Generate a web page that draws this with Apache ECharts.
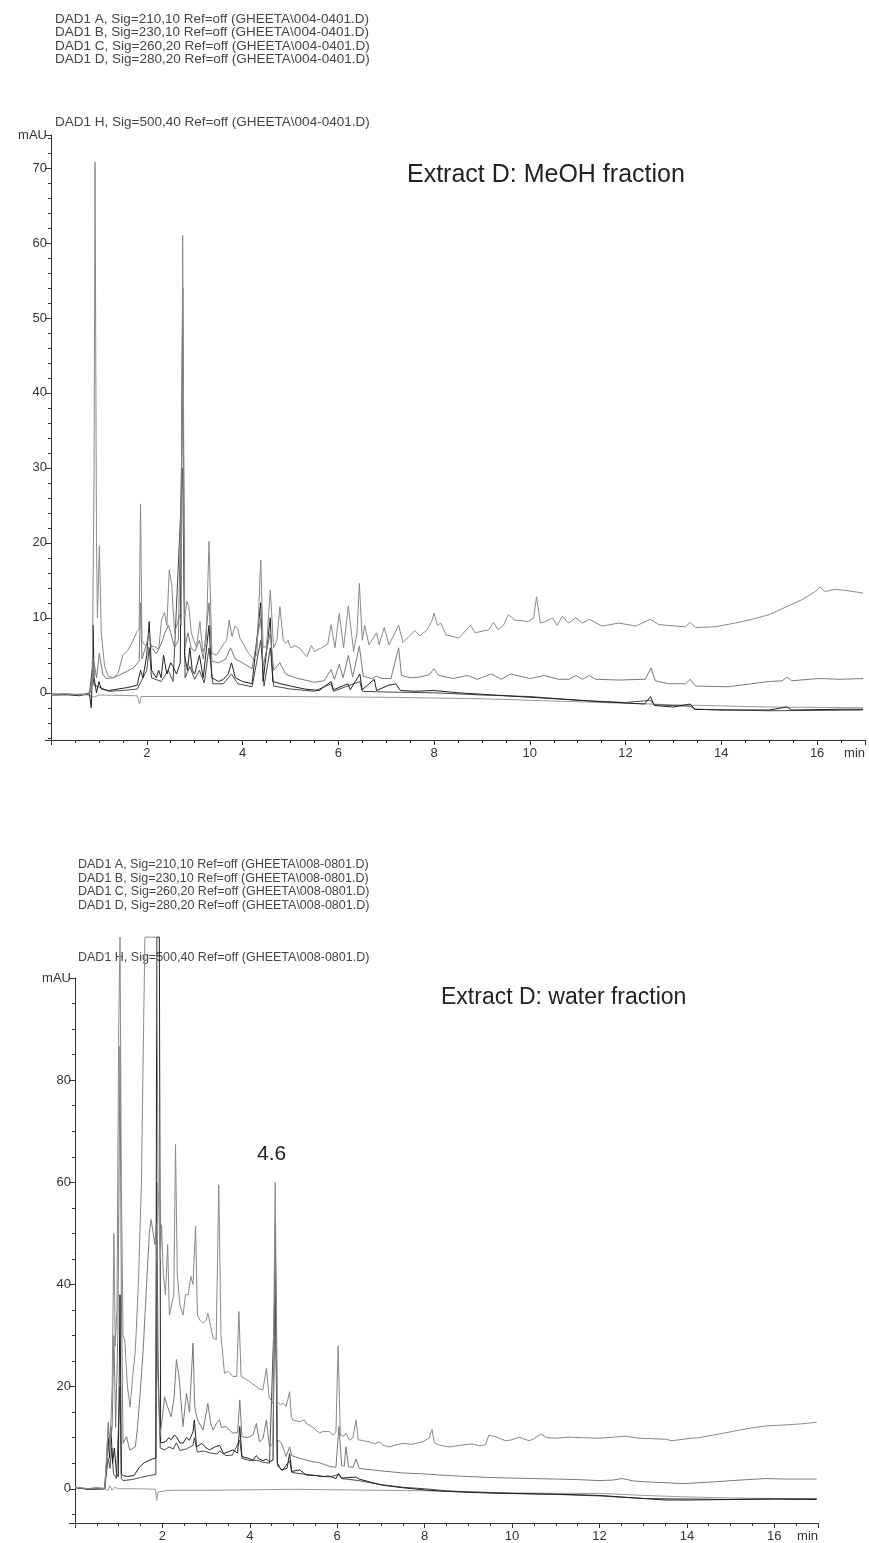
<!DOCTYPE html>
<html>
<head>
<meta charset="utf-8">
<title>Extract D chromatograms</title>
<script src="https://cdn.jsdelivr.net/npm/echarts@6/dist/echarts.min.js"></script>
<style>
  html, body { margin: 0; padding: 0; background: #fff; }
  #chart { width: 869px; height: 1543px; }
</style>
</head>
<body>
<div id="chart"></div>
<script>
// header lines (signal descriptions)
var topHeader = [
  'DAD1 A, Sig=210,10 Ref=off (GHEETA\\004-0401.D)',
  'DAD1 B, Sig=230,10 Ref=off (GHEETA\\004-0401.D)',
  'DAD1 C, Sig=260,20 Ref=off (GHEETA\\004-0401.D)',
  'DAD1 D, Sig=280,20 Ref=off (GHEETA\\004-0401.D)'
];
var topHeaderH = 'DAD1 H, Sig=500,40 Ref=off (GHEETA\\004-0401.D)';
var botHeader = [
  'DAD1 A, Sig=210,10 Ref=off (GHEETA\\008-0801.D)',
  'DAD1 B, Sig=230,10 Ref=off (GHEETA\\008-0801.D)',
  'DAD1 C, Sig=260,20 Ref=off (GHEETA\\008-0801.D)',
  'DAD1 D, Sig=280,20 Ref=off (GHEETA\\008-0801.D)'
];
var botHeaderH = 'DAD1 H, Sig=500,40 Ref=off (GHEETA\\008-0801.D)';

// axis ranges
var xMax = 17;
var topYMin = -6.3, topYMax = 74.4;
var botYMin = -6.7, botYMax = 100;

// ---- MeOH fraction traces [min, mAU] ----
var topA = [[0,-0.2],[0.3,-0.1],[0.6,-0.3],[0.8,-0.1],[0.86,0.5],[0.9,30],[0.92,70.8],[0.95,20],[0.97,10],[1.01,19.6],[1.05,8],[1.12,3.5],[1.2,2.2],[1.3,2.0],[1.4,2.6],[1.5,5],[1.6,5.6],[1.7,6.8],[1.8,8.2],[1.84,8.5],[1.87,25.2],[1.9,7],[1.95,6.4],[2.05,6],[2.15,6.2],[2.25,5.8],[2.31,9.8],[2.37,10.7],[2.42,9],[2.47,16.4],[2.52,14.5],[2.58,8],[2.63,9],[2.68,10.4],[2.72,9],[2.75,61],[2.79,10],[2.84,12.2],[2.88,11.5],[2.93,8],[2.98,7],[3.04,6.1],[3.11,9.5],[3.17,5.5],[3.24,6.5],[3.3,20.2],[3.36,5.3],[3.45,5],[3.53,5.7],[3.6,6.5],[3.67,7],[3.72,9.7],[3.78,7.5],[3.84,8.9],[3.9,8.5],[3.95,7.2],[4.02,6.5],[4.1,5.5],[4.22,4.5],[4.3,5],[4.38,17.7],[4.43,6],[4.5,6.2],[4.58,13.7],[4.65,6],[4.72,7],[4.78,11.5],[4.85,7],[4.9,6.6],[4.95,7],[5.0,6],[5.1,6.3],[5.2,5.9],[5.34,4.8],[5.44,6.3],[5.5,5.5],[5.65,6],[5.78,6.5],[5.85,9.1],[5.93,6],[6.02,10.6],[6.11,6],[6.21,11.6],[6.32,5.5],[6.39,8],[6.44,14.6],[6.5,7],[6.55,9],[6.64,6.4],[6.8,8],[6.85,6.4],[6.96,8.7],[7.06,6.4],[7.26,9],[7.35,6.7],[7.6,8.3],[7.7,7.6],[7.84,8.3],[7.95,9.5],[8.0,10.6],[8.07,9],[8.14,9.3],[8.25,7.7],[8.4,7.5],[8.52,7.3],[8.66,8.3],[8.76,9],[8.86,8],[9.0,8.2],[9.14,8.4],[9.24,9.4],[9.34,8.4],[9.45,9],[9.55,10.4],[9.69,9.7],[9.85,9.6],[9.97,9.5],[10.08,10],[10.14,12.8],[10.22,9.3],[10.33,9.5],[10.47,10],[10.57,9],[10.68,10.2],[10.81,9.3],[10.96,10],[11.1,9.3],[11.24,9.8],[11.51,8.9],[11.86,9.3],[12.21,8.9],[12.52,9.8],[12.69,9.1],[13.04,8.9],[13.25,8.8],[13.35,9.4],[13.46,8.7],[13.87,8.8],[14.29,9.3],[14.64,9.8],[14.99,10.4],[15.37,11.5],[15.68,12.4],[15.96,13.5],[16.06,14.1],[16.17,13.5],[16.38,13.8],[16.65,13.6],[16.96,13.3]];
var topB = [[0,-0.2],[0.8,-0.2],[0.86,1],[0.9,4],[0.95,2],[1.01,5.3],[1.08,2.5],[1.15,1.9],[1.3,2.0],[1.44,2.4],[1.6,2.9],[1.72,3.3],[1.84,4.2],[1.87,12],[1.9,4.5],[2.0,6.6],[2.05,8],[2.1,6],[2.2,5.2],[2.3,6.5],[2.38,8],[2.45,9],[2.5,8],[2.58,6],[2.66,7],[2.75,40],[2.8,6],[2.86,8],[2.93,6],[3.0,5.5],[3.1,7],[3.18,4.5],[3.3,12],[3.36,4.2],[3.5,4],[3.65,4.5],[3.75,6],[3.85,4.5],[4.0,4],[4.2,3.2],[4.38,10],[4.43,3.5],[4.58,8],[4.65,3],[4.78,4],[4.9,2.5],[5.1,2],[5.3,1.7],[5.5,1.4],[5.7,1.6],[5.85,3.1],[5.92,1.8],[6.02,3.8],[6.1,2],[6.21,5],[6.3,2.1],[6.44,6.2],[6.52,2.2],[6.7,1.9],[6.8,2.2],[6.9,1.9],[7.1,1.9],[7.26,6],[7.32,2.3],[7.5,2],[7.7,2.1],[7.9,2.4],[8.0,3.2],[8.1,2.3],[8.4,1.9],[8.7,2.3],[8.9,1.8],[9.2,2.5],[9.4,1.8],[9.6,2.5],[9.8,2.2],[10.0,1.9],[10.3,2.3],[10.6,1.8],[10.82,1.8],[10.96,2.3],[11.1,1.8],[11.24,2.3],[11.38,1.8],[11.86,1.7],[12.41,1.8],[12.53,3.3],[12.62,1.6],[12.9,1.2],[13.25,1.2],[13.35,1.8],[13.46,0.9],[14.15,0.8],[14.99,1.5],[15.27,1.6],[15.37,2.1],[15.47,1.6],[16.03,1.9],[16.5,1.8],[16.96,1.9]];
var topC = [[0,-0.2],[0.3,-0.2],[0.6,-0.4],[0.8,0],[0.84,-2],[0.86,2],[0.88,9],[0.9,2],[0.95,0],[1.0,1.5],[1.05,0.5],[1.2,0.3],[1.4,0.5],[1.6,0.7],[1.8,1.0],[1.87,3],[1.92,2],[2.0,5],[2.05,9.5],[2.1,3],[2.2,2],[2.25,3],[2.3,2],[2.35,5],[2.42,2.5],[2.5,4],[2.55,3.5],[2.62,2.5],[2.7,4],[2.75,54],[2.79,5],[2.85,3],[2.9,6],[2.95,3],[3.0,2.5],[3.1,5],[3.18,2],[3.3,9],[3.36,2],[3.5,1.5],[3.6,1.8],[3.7,2.5],[3.77,4],[3.85,2],[4.0,1.5],[4.2,1.2],[4.38,12],[4.43,1.5],[4.58,10],[4.63,1.5],[4.8,1.2],[5.0,0.9],[5.3,0.5],[5.6,0.3],[5.85,1.5],[5.9,0.4],[6.2,1.2],[6.25,0.4],[6.45,2.5],[6.5,0.4],[6.75,1.8],[6.8,0.3],[7.05,1],[7.2,1.2],[7.3,0.3],[7.6,0.2],[8.0,0.3],[8.5,0],[9,-0.2],[9.5,-0.4],[10,-0.6],[10.8,-0.9],[11.5,-1.2],[12.4,-1.5],[12.52,-0.5],[12.6,-1.7],[13.0,-1.9],[13.35,-1.5],[13.45,-2.2],[14,-2.3],[15,-2.3],[15.37,-1.9],[15.47,-2.3],[16.5,-2.2],[16.96,-2.2]];
var topD = [[0,-0.3],[0.8,-0.2],[0.86,3],[0.9,1],[1.0,0.8],[1.2,0.2],[1.5,0.3],[1.8,0.5],[2.0,3],[2.05,6],[2.1,2],[2.3,1.5],[2.45,3],[2.55,1.5],[2.75,30],[2.8,2],[2.9,3.5],[3.0,1.8],[3.1,3],[3.2,1.3],[3.3,6],[3.38,1.2],[3.6,1.2],[3.77,2.5],[3.9,1.2],[4.2,0.8],[4.38,7],[4.45,0.9],[4.58,6],[4.65,0.9],[5.0,0.5],[5.5,0.2],[5.85,1.2],[5.9,0.2],[6.45,1.5],[6.5,0.2],[7,0.1],[8,0],[9,-0.3],[10,-0.5],[11,-1.0],[12,-1.3],[12.52,-1.0],[12.6,-1.6],[13.35,-1.8],[13.45,-2.2],[15,-2.4],[16.96,-2.3]];
var topH = [[0,-0.3],[0.8,-0.3],[0.9,-0.6],[1.0,-0.3],[1.8,-0.4],[1.85,-1.5],[1.88,-0.5],[3,-0.5],[5,-0.5],[7,-0.6],[9,-0.8],[11,-1.2],[13,-1.6],[15,-1.9],[16.96,-2.0]];

// ---- water fraction traces [min, mAU] (108 = clipped at top of plot) ----
var botA = [[0,0.3],[0.3,0],[0.5,0.3],[0.68,0],[0.72,6],[0.76,12],[0.8,8],[0.85,20],[0.89,50],[0.92,28],[0.96,35],[1.0,90],[1.03,108],[1.06,60],[1.1,30],[1.14,29],[1.2,20],[1.26,16],[1.32,22],[1.38,27],[1.45,40],[1.52,60],[1.56,85],[1.6,108],[1.87,108],[1.9,60],[1.95,45],[1.98,51.7],[2.02,42],[2.07,38],[2.12,47.8],[2.16,34],[2.2,33.7],[2.26,38],[2.3,67.4],[2.34,42],[2.4,36],[2.47,34],[2.53,38],[2.59,38],[2.65,41.6],[2.7,40],[2.76,51.4],[2.8,34],[2.86,33],[2.93,32.4],[3.0,33],[3.04,34.4],[3.1,32],[3.16,29.5],[3.23,29.2],[3.29,59.5],[3.34,30],[3.42,22.6],[3.5,23],[3.61,22],[3.7,22],[3.75,34.7],[3.8,22],[3.9,21.5],[4.0,21],[4.07,20.5],[4.15,20],[4.22,19.5],[4.3,19.4],[4.38,23.6],[4.44,18],[4.53,16.7],[4.58,60],[4.63,17],[4.7,16.5],[4.77,16.7],[4.83,16.1],[4.91,19],[4.95,14],[4.98,13.5],[5.14,13.1],[5.25,13.5],[5.29,12.8],[5.45,12],[5.59,10.9],[5.67,11.2],[5.82,11.2],[5.9,10.5],[5.97,11],[6.02,28],[6.07,10.5],[6.15,10.3],[6.2,10.9],[6.28,9.5],[6.36,10],[6.43,13.5],[6.48,9.6],[6.6,9.4],[6.73,9.2],[6.85,8.8],[6.96,9.2],[7.05,8.5],[7.19,8.2],[7.35,8.6],[7.5,8.9],[7.7,8.7],[7.95,9.2],[8.1,9.9],[8.17,11.6],[8.22,9.0],[8.35,8.5],[8.56,8.2],[8.8,8.5],[9.09,8.8],[9.25,8.4],[9.39,8.6],[9.47,10.5],[9.58,10.3],[9.7,9.9],[9.85,9.4],[10.0,9.6],[10.16,10.1],[10.39,9.4],[10.5,9.8],[10.65,10.7],[10.8,10],[11.0,9.9],[11.3,10.1],[11.6,10],[11.99,9.9],[12.3,10.1],[12.6,10.3],[12.9,9.9],[13.2,9.8],[13.51,9.7],[13.66,9.4],[14.0,9.8],[14.27,10],[14.6,10.5],[15.03,11.2],[15.4,11.8],[15.79,12.3],[16.25,12.5],[16.6,12.7],[16.97,13.0]];
var botB = [[0,0.3],[0.3,0],[0.68,0.1],[0.72,5],[0.76,13],[0.8,9],[0.85,12],[0.89,30],[0.93,12],[0.98,30],[1.03,86.7],[1.06,38],[1.1,8.9],[1.18,10.2],[1.25,7.6],[1.38,8.2],[1.43,12],[1.48,17.4],[1.56,27.2],[1.64,40.3],[1.7,50],[1.74,52.7],[1.79,50],[1.83,47.8],[1.86,52],[1.89,24],[1.94,10.2],[2.0,14],[2.05,18],[2.12,16],[2.2,14.1],[2.27,18],[2.32,25.3],[2.38,22],[2.47,12.2],[2.55,18.7],[2.62,15],[2.7,28.5],[2.74,16],[2.8,13.5],[2.93,11.5],[3.04,16.7],[3.1,13],[3.16,11.5],[3.25,13],[3.31,13.5],[3.35,12],[3.45,12.2],[3.61,10.9],[3.72,11],[3.77,17.4],[3.82,10.2],[3.95,10],[4.07,10.5],[4.15,12.8],[4.22,9.2],[4.3,9.8],[4.38,13.5],[4.45,8.2],[4.53,8.9],[4.58,52],[4.63,9.6],[4.72,9],[4.83,6.3],[4.91,8.2],[4.96,6.5],[5.14,5.96],[5.29,5.6],[5.45,5.3],[5.59,5.1],[5.82,4.4],[5.97,4.2],[6.04,12.2],[6.1,4.6],[6.16,4.4],[6.2,8.2],[6.26,4.3],[6.36,4.2],[6.43,5.8],[6.5,4.0],[6.8,3.7],[7.0,3.5],[7.26,3.3],[7.5,3.1],[8.0,2.9],[8.5,2.6],[9.0,2.4],[9.5,2.2],[10.0,2.1],[10.5,2.0],[11.0,1.9],[11.5,1.8],[11.99,1.6],[12.3,1.7],[12.52,2.0],[12.8,1.5],[13.2,1.3],[13.5,1.2],[13.89,1.0],[14.3,1.2],[14.7,1.4],[15.03,1.6],[15.4,1.8],[15.79,2.0],[16.3,1.9],[16.97,1.9]];
var botC = [[0,0.3],[0.3,-0.1],[0.68,0],[0.72,5],[0.76,10],[0.79,6],[0.82,12.2],[0.86,5],[0.9,8],[0.95,3],[0.99,2.4],[1.03,38],[1.06,3],[1.1,2.6],[1.2,2.4],[1.35,2.6],[1.48,4.3],[1.6,5.2],[1.79,5.9],[1.85,6],[1.87,108],[1.93,108],[1.96,9],[2.07,9.2],[2.15,10],[2.2,9.6],[2.27,10.5],[2.32,10.2],[2.4,9],[2.47,8.9],[2.55,10],[2.62,9.5],[2.7,11.2],[2.73,13.5],[2.78,8.2],[2.9,8.9],[3.0,8],[3.08,7.6],[3.2,8.2],[3.31,8.5],[3.4,6.9],[3.5,7.2],[3.61,7.6],[3.72,7],[3.77,12.2],[3.82,6.3],[3.95,6],[4.07,5.6],[4.15,6.5],[4.2,5.9],[4.3,5.5],[4.38,5.8],[4.45,5.3],[4.53,5.6],[4.58,48],[4.63,5],[4.72,3.7],[4.85,4],[4.91,6.9],[4.96,3.4],[5.14,3.7],[5.29,2.7],[5.5,2.6],[5.67,2.4],[5.82,2.5],[5.97,2.0],[6.03,3],[6.1,2.1],[6.43,2.3],[6.5,1.9],[6.8,1.2],[7.04,0.7],[7.5,0.2],[8.03,-0.25],[8.5,-0.5],[9.0,-0.7],[9.7,-0.9],[10.5,-1.0],[11.2,-1.1],[11.99,-1.3],[12.5,-1.6],[13.0,-1.9],[13.5,-2.2],[14.0,-2.2],[15.0,-2.1],[16.0,-2.0],[16.97,-2.1]];
var botD = [[0,0.2],[0.3,-0.1],[0.68,0],[0.72,3],[0.76,6],[0.8,4],[0.84,8],[0.88,3],[0.95,2],[1.03,20],[1.06,2],[1.1,1.6],[1.3,1.8],[1.5,2.2],[1.7,2.6],[1.85,2.8],[1.87,60],[1.9,25],[1.95,8],[2.05,7.6],[2.15,8.2],[2.25,7.8],[2.32,9],[2.4,7.5],[2.55,7.8],[2.7,8.5],[2.73,10],[2.8,7.2],[2.95,7.4],[3.1,7],[3.25,6.8],[3.31,7.4],[3.45,6.5],[3.6,6.6],[3.77,9.5],[3.82,6],[4.0,5.5],[4.15,5.6],[4.3,5.2],[4.45,5.0],[4.58,40],[4.63,4.5],[4.75,3.6],[4.91,5.5],[4.96,3.2],[5.2,2.9],[5.5,2.6],[5.82,2.3],[6.03,2.8],[6.1,2.0],[6.5,1.6],[7.0,0.8],[7.5,0.3],[8.0,0],[8.5,-0.4],[9.0,-0.6],[10,-0.9],[11,-1.1],[12,-1.4],[13,-1.9],[14,-2.0],[15,-2.1],[16,-2.0],[16.97,-2.0]];
var botH = [[0,0.2],[0.3,0],[0.68,0.1],[0.75,-0.4],[0.8,0.6],[0.85,-0.3],[0.9,0.3],[1.0,0],[1.5,0],[1.84,-0.1],[1.87,-2.3],[1.9,-0.6],[2.2,-0.3],[3,-0.3],[4,-0.2],[5,-0.1],[6,-0.2],[7,-0.3],[8,-0.4],[9,-0.6],[10,-0.8],[11,-0.9],[12,-0.9],[13,-1.3],[14,-1.6],[15,-1.8],[16,-1.9],[16.97,-1.9]];

var font = '"Liberation Sans", Arial, sans-serif';
var chart = echarts.init(document.getElementById('chart'), null, { renderer: 'canvas' });

function xAxisOf(gi) {
  return {
    type: 'value', gridIndex: gi, min: 0, max: xMax, interval: 2,
    name: 'min', nameLocation: 'end', nameGap: 0,
    nameTextStyle: { color: '#333', fontFamily: font, fontSize: 13, align: 'right', verticalAlign: 'top', padding: [7, 0, 0, 0] },
    axisLine: { show: true, onZero: false, lineStyle: { color: '#333', width: 1 } },
    axisTick: { show: true, length: 5, lineStyle: { color: '#333' } },
    minorTick: { show: true, splitNumber: 4, length: 3, lineStyle: { color: '#333' } },
    splitLine: { show: false },
    axisLabel: {
      color: '#333', fontFamily: font, fontSize: 13, margin: 7,
      formatter: function (v) { return (v === 0 || v === xMax) ? '' : String(v); }
    }
  };
}
function yAxisOf(gi, mn, mx, step, minorSplit) {
  return {
    type: 'value', gridIndex: gi, min: mn, max: mx, minInterval: step, maxInterval: step,
    axisLine: { show: true, onZero: false, lineStyle: { color: '#333', width: 1 } },
    axisTick: { show: true, length: 6, lineStyle: { color: '#333' } },
    minorTick: { show: true, splitNumber: minorSplit, length: 3, lineStyle: { color: '#333' } },
    splitLine: { show: false },
    axisLabel: {
      color: '#333', fontFamily: font, fontSize: 13, margin: 4, interval: 0,
      formatter: function (v) { return v === mx ? 'mAU' : (v === mn ? '' : String(v)); }
    }
  };
}
function trace(data, color, gi) {
  return {
    type: 'line', xAxisIndex: gi, yAxisIndex: gi, data: data,
    showSymbol: false, symbol: 'none', clip: false, animation: false,
    lineStyle: { color: color, width: 1 }
  };
}
function headerText(lines, x, y0, step, size) {
  return lines.map(function (t, i) {
    return { type: 'text', left: x, top: y0 + i * step,
      style: { text: t, fill: '#444', font: size + 'px ' + font } };
  });
}

var graphics = []
  .concat(headerText(topHeader, 55, 12, 13.5, 13.5))
  .concat(headerText([topHeaderH], 55, 115, 13.5, 13.5))
  .concat(headerText(botHeader, 78, 858, 13.7, 12.5))
  .concat(headerText([botHeaderH], 78, 951, 13.7, 12.5))
  .concat([
    { type: 'text', left: 407, top: 163, style: { text: 'Extract D: MeOH fraction', fill: '#222', font: '25px ' + font } },
    { type: 'text', left: 441, top: 986, style: { text: 'Extract D: water fraction', fill: '#222', font: '23px ' + font } },
    { type: 'text', left: 257, top: 1144, style: { text: '4.6', fill: '#222', font: '21px ' + font } }
  ]);

chart.setOption({
  animation: false,
  backgroundColor: '#fff',
  grid: [
    { left: 51, top: 135, width: 814, height: 605 },
    { left: 75, top: 978, width: 743, height: 545 }
  ],
  xAxis: [xAxisOf(0), xAxisOf(1)],
  yAxis: [yAxisOf(0, topYMin, topYMax, 10, 5), yAxisOf(1, botYMin, botYMax, 20, 4)],
  series: [
    trace(topH, '#9a9a9a', 0), trace(topD, '#4a4a4a', 0), trace(topC, '#222', 0),
    trace(topB, '#7a7a7a', 0), trace(topA, '#8a8a8a', 0),
    trace(botH, '#9a9a9a', 1), trace(botD, '#4a4a4a', 1), trace(botC, '#222', 1),
    trace(botB, '#7a7a7a', 1), trace(botA, '#8a8a8a', 1)
  ],
  graphic: graphics
});
</script>
</body>
</html>
